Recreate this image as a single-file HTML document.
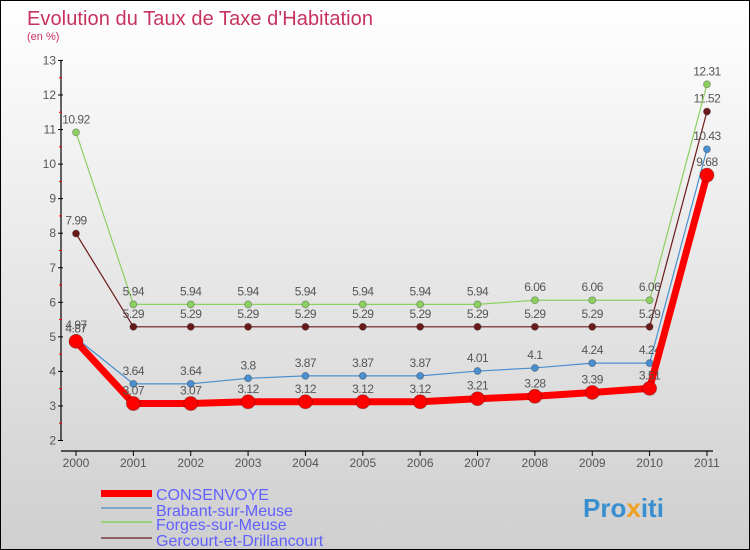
<!DOCTYPE html>
<html><head><meta charset="utf-8"><style>
body{margin:0}
#c{width:748px;height:548px;border:1px solid #000;background:linear-gradient(#fff,#cfcfcf);position:relative;overflow:hidden;font-family:"Liberation Sans",sans-serif}
</style></head><body>
<div id="c">
<svg id="s" width="748" height="548" xmlns="http://www.w3.org/2000/svg">
<text x="26" y="24" font-size="20" fill="#c8325f" textLength="346">Evolution du Taux de Taxe d'Habitation</text>
<text x="26" y="39" font-size="11" fill="#c8325f">(en %)</text>
<g id="axes"></g><g id="series"></g>
<g>
<rect x="100" y="489" width="51" height="7" fill="#f00"/>
<text x="155" y="499" font-size="16" fill="#6060ff">CONSENVOYE</text>
<rect x="100" y="506" width="51" height="2" fill="#7aa8c8"/>
<text x="155" y="515" font-size="16" fill="#6060ff">Brabant-sur-Meuse</text>
<rect x="100" y="520" width="51" height="2" fill="#9ad07a"/>
<text x="155" y="529" font-size="16" fill="#6060ff">Forges-sur-Meuse</text>
<rect x="100" y="536" width="51" height="2" fill="#906060"/>
<text x="155" y="545" font-size="16" fill="#6060ff">Gercourt-et-Drillancourt</text>
</g>
<text x="582" y="516" font-size="26" font-weight="bold" fill="#3a8fd0">Pro<tspan fill="#f0a020">x</tspan><tspan fill="#3a8fd0">iti</tspan></text>
</svg></div>
<script>
const years=["2000","2001","2002","2003","2004","2005","2006","2007","2008","2009","2010","2011"];
const yTicks=[2,3,4,5,6,7,8,9,10,11,12,13];
const consenvoye=[4.87,3.07,3.07,3.12,3.12,3.12,3.12,3.21,3.28,3.39,3.51,9.68];
const brabant=[4.97,3.64,3.64,3.8,3.87,3.87,3.87,4.01,4.1,4.24,4.24,10.43];
const forges=[10.92,5.94,5.94,5.94,5.94,5.94,5.94,5.94,6.06,6.06,6.06,12.31];
const gercourt=[7.99,5.29,5.29,5.29,5.29,5.29,5.29,5.29,5.29,5.29,5.29,11.52];
const NS="http://www.w3.org/2000/svg";
const X=i=>75+i*57.36, Y=v=>439.5-(v-2)*34.55;
function mk(t,a,p){const e=document.createElementNS(NS,t);for(const k in a)e.setAttribute(k,a[k]);p.appendChild(e);return e;}
const ax=document.getElementById('axes');
let l=mk('line',{x1:60,y1:Y(13),x2:60,y2:Y(2),stroke:'#000','stroke-width':1.2},ax);


l=mk('line',{x1:60,y1:450,x2:712,y2:450,stroke:'#000','stroke-width':1.2},ax);


yTicks.forEach(v=>{
 mk('line',{x1:57,x2:62,y1:Y(v),y2:Y(v),stroke:'#000'},ax);
 if(v<13)mk('line',{x1:58,x2:61,y1:Y(v+0.5),y2:Y(v+0.5),stroke:'#f00'},ax);
 const t=mk('text',{x:55,y:Y(v)+4,'font-size':12,fill:'#555','text-anchor':'end'},ax);t.textContent=v;
 
 
});
years.forEach((y,i)=>{
 mk('line',{x1:X(i),x2:X(i),y1:450,y2:455,stroke:'#000'},ax);
 const t=mk('text',{x:X(i),y:466,'font-size':12,fill:'#555','text-anchor':'middle'},ax);t.textContent=y;
 
 
});
const sg=document.getElementById('series');
function series(d,col,w,r,name){
 const g=mk('g',{},sg);
 
 
 mk('polyline',{points:d.map((v,i)=>X(i)+','+Y(v)).join(' '),fill:'none',stroke:col,'stroke-width':w,'stroke-linejoin':'round'},g);
 d.forEach((v,i)=>{
  const c=mk('circle',{cx:X(i),cy:Y(v),r:r,fill:col,stroke:'rgba(0,0,0,0.25)','stroke-width':1},g);
  
  
  const t=mk('text',{x:X(i),y:Y(v)-9,'font-size':12,fill:'#555','text-anchor':'middle','letter-spacing':'-0.5'},g);
  t.textContent=String(v);
  
  
 });
}
series(gercourt,'#6a1a1a',1.2,3.5,'gercourt');
series(forges,'#8cd060',1.2,3.5,'forges');
series(brabant,'#4a90d0',1.2,3.5,'brabant');
series(consenvoye,'#f00',7,7,'consenvoye');
</script>
</body></html>
